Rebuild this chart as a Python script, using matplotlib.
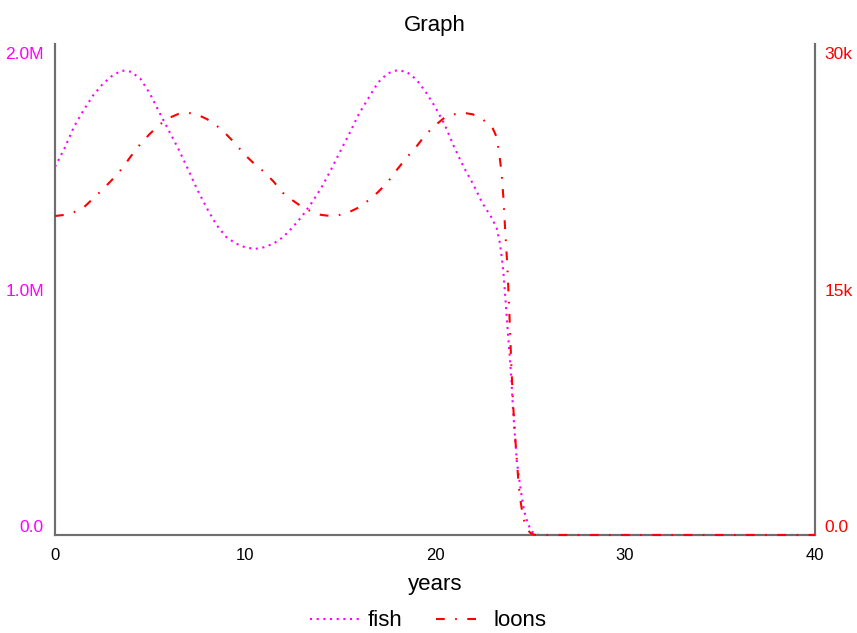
import matplotlib
matplotlib.use("Agg")
import matplotlib.pyplot as plt
from matplotlib.transforms import ScaledTranslation

plt.rcParams['font.family'] = ['Liberation Sans', 'DejaVu Sans']

# ---- data ----
years = [0, 0.5, 1, 1.5, 2, 2.5, 3, 3.5, 4, 4.5, 5, 5.5, 6, 6.5, 7, 7.5, 8, 8.5,
         9, 9.5, 10, 10.5, 11, 11.5, 12, 12.5, 13, 13.5, 14, 14.5, 15, 15.5, 16,
         16.5, 17, 17.5, 18, 18.5, 19, 19.5, 20, 20.5, 21, 21.5, 22, 22.5, 23,
         23.25, 23.4, 23.5, 23.6, 23.7, 23.8, 23.9, 24.0, 24.1, 24.2, 24.3, 24.4,
         24.5, 24.6, 24.7, 24.8, 24.9, 25.0, 25.1, 25.2, 25.3, 25.5, 26, 30, 35, 40]

fish = [1.500e6, 1.575e6, 1.663e6, 1.730e6, 1.790e6, 1.836e6, 1.870e6, 1.892e6,
        1.887e6, 1.858e6, 1.797e6, 1.720e6, 1.646e6, 1.572e6, 1.490e6, 1.405e6,
        1.330e6, 1.263e6, 1.215e6, 1.188e6, 1.172e6, 1.165e6, 1.172e6, 1.187e6,
        1.213e6, 1.253e6, 1.298e6, 1.352e6, 1.412e6, 1.484e6, 1.561e6, 1.636e6,
        1.716e6, 1.780e6, 1.843e6, 1.880e6, 1.893e6, 1.887e6, 1.857e6, 1.806e6,
        1.745e6, 1.673e6, 1.582e6, 1.500e6, 1.430e6, 1.351e6, 1.290e6,
        1.249e6, 1.195e6, 1.140e6, 1.070e6, 0.970e6, 0.860e6, 0.760e6, 0.660e6,
        0.520e6, 0.410e6, 0.305e6, 0.245e6, 0.190e6, 0.140e6, 0.095e6, 0.068e6,
        0.045e6, 0.027e6, 0.015e6, 0.007e6, 0.003e6, 0, 0, 0, 0, 0]

loons = [19490, 19560, 19730, 20000, 20550, 21100, 21700, 22350, 23150, 23900,
         24520, 25070, 25480, 25730, 25800, 25680, 25410, 25020, 24500, 23900,
         23220, 22670, 22190, 21600, 20900, 20450, 20050, 19760, 19560, 19490,
         19560, 19740, 20020, 20450, 20950, 21550, 22320, 23050, 23700, 24450,
         25020, 25500, 25700, 25800, 25700, 25400, 24950,
         24300, 23100, 22200, 20600, 18500, 16600, 14000, 10900, 8200, 6300,
         4700, 3100, 2100, 1340, 850, 500, 280, 150, 70, 30, 10, 0, 0, 0, 0, 0]

x_ticks = [0, 10, 20, 30, 40]
fish_ticks = [0, 1.0e6, 2.0e6]
fish_tick_labels = ['0.0', '1.0M', '2.0M']
loon_ticks = [0, 15000, 30000]
loon_tick_labels = ['0.0', '15k', '30k']

# ---- figure ----
fig = plt.figure(figsize=(8.57, 6.33), dpi=100)
ax = fig.add_axes([55/857, 1 - 535/633, (815 - 55)/857, (535 - 44)/633])
ax2 = ax.twinx()

spine_col = '#6e6e6e'
for a in (ax, ax2):
    for s in a.spines.values():
        s.set_color(spine_col)
        s.set_linewidth(1.5)
    a.spines['top'].set_visible(False)

lf, = ax.plot(years, fish, color='#ff00ff', lw=1.5, linestyle=(0, (1, 2.2)),
              clip_on=False, label='fish', zorder=3)
ll, = ax2.plot(years, loons, color='#ff0000', lw=1.5,
               linestyle=(0, (4.2, 5.0, 0.8, 5.0)), clip_on=False,
               label='loons', zorder=3)

ax.set_xlim(0, 40)
ax.set_ylim(0, 2.0e6)
ax2.set_ylim(0, 30000)

ax.set_xticks(x_ticks)
ax.set_xticklabels([str(v) for v in x_ticks])
ax.set_yticks(fish_ticks)
ax.set_yticklabels(fish_tick_labels)
ax2.set_yticks(loon_ticks)
ax2.set_yticklabels(loon_tick_labels)

ax.tick_params(axis='x', length=0, pad=9, labelsize=12, labelcolor='black')
ax.tick_params(axis='y', length=0, pad=8, labelsize=12.5, labelcolor='#ff00ff')
ax2.tick_params(axis='y', length=0, pad=7, labelsize=12.5, labelcolor='#ff0000')

for a in (ax, ax2):
    labs = a.get_yticklabels()
    labs[0].set_va('bottom')
    labs[-1].set_va('top')

ax.set_title('Graph', fontsize=16, pad=9)
ax.set_xlabel('years', fontsize=16, labelpad=8)

fig.legend(handles=[lf, ll], loc='center', bbox_to_anchor=(0.5, 1 - 621/633),
           ncol=2, frameon=False, fontsize=16, handlelength=2.2,
           handletextpad=0.4, columnspacing=1.5)

fig.canvas.draw()
for a in (ax, ax2):
    top = a.get_yticklabels()[-1]
    top.set_transform(top.get_transform() + ScaledTranslation(0, -3/100, fig.dpi_scale_trans))

fig.savefig('out.png', dpi=100)
